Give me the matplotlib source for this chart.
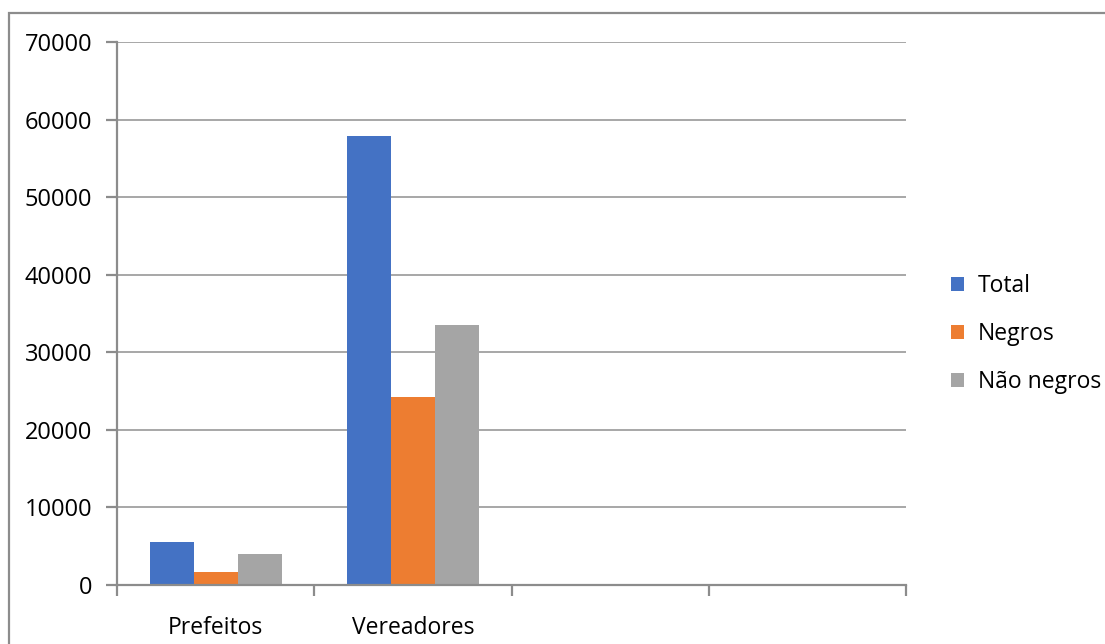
import numpy as np
import matplotlib.pyplot as plt
from matplotlib.patches import Rectangle

plt.rcParams['font.family'] = ['Open Sans', 'DejaVu Sans']

# Data
categories = ['Prefeitos', 'Vereadores', '', '']
series = ['Total', 'Negros', 'Não negros']
total = [5550, 57900, 0, 0]
negros = [1700, 24250, 0, 0]
nao_negros = [4000, 33500, 0, 0]
colors = ['#4472c4', '#ed7d31', '#a5a5a5']
yticks = [0, 10000, 20000, 30000, 40000, 50000, 60000, 70000]

W, H = 1105, 644
fig = plt.figure(figsize=(W / 100, H / 100), dpi=100)

# Outer chart border (cut off at right and bottom)
fig.patches.append(Rectangle((9 / W, -0.05), 1.1, 1 - 13 / H + 0.05,
                             transform=fig.transFigure, fill=False,
                             edgecolor='#8c8c8c', linewidth=1.6))

ax = fig.add_axes([117 / W, 1 - 585 / H, (906 - 117) / W, (585 - 42) / H])

x = np.arange(len(categories)) + 0.5
width = 0.2234
values = [total, negros, nao_negros]
# Only draw bars that have data
for i, (name, vals, c) in enumerate(zip(series, values, colors)):
    xs = [xx for xx, v in zip(x, vals) if v > 0]
    vs = [v for v in vals if v > 0]
    ax.bar(np.array(xs) + (i - 1) * width, vs, width, color=c, label=name,
           zorder=3)

ax.set_xlim(0, len(categories))
ax.set_ylim(0, 70000)
ax.set_yticks(yticks)
ax.set_yticklabels([str(t) for t in yticks], fontsize=17)
ax.yaxis.grid(True, color='#a0a0a0', linewidth=1.3, zorder=0)

# category boundaries as ticks, labels centered
ax.set_xticks(np.arange(len(categories) + 1))
ax.set_xticklabels([])
ax.set_xticks(x, minor=True)
ax.set_xticklabels(categories, minor=True, fontsize=16.5)
ax.tick_params(axis='x', which='minor', length=0, pad=22)
ax.tick_params(axis='x', which='major', length=8, width=1.6, color='#8c8c8c')
ax.tick_params(axis='y', length=8, width=1.6, color='#8c8c8c', pad=10)

for s in ['top', 'right']:
    ax.spines[s].set_visible(False)
for s in ['left', 'bottom']:
    ax.spines[s].set_color('#8c8c8c')
    ax.spines[s].set_linewidth(1.6)
    ax.spines[s].set_zorder(4)

ax.legend(loc='center left', bbox_to_anchor=(940 / W, 1 - 334 / H),
          bbox_transform=fig.transFigure, frameon=False, fontsize=16.5,
          handlelength=0.55, handleheight=0.55, handletextpad=0.6,
          labelspacing=1.05, borderpad=0)

plt.savefig('out.png', dpi=100)
